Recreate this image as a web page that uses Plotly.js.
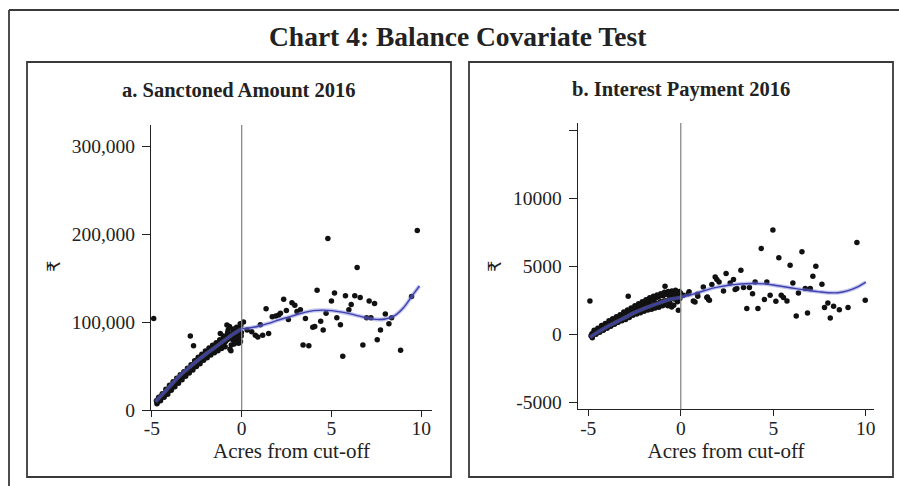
<!DOCTYPE html>
<html><head><meta charset="utf-8">
<script src="https://cdn.plot.ly/plotly-3.0.1.min.js"></script>
<style>html,body{margin:0;padding:0;background:#fff}#c{width:899px;height:486px}</style>
</head><body><div id="c"></div>
<script>
// ---- Panel a: Sanctioned Amount 2016 ----
const aX = [-4.9,-4.75,-4.7,-4.65,-4.6,-4.55,-4.5,-4.45,-4.4,-4.35,-4.3,-4.25,-4.2,-4.15,-4.1,-4.05,-4.0,-3.95,-3.9,-3.85,-3.8,-3.75,-3.7,-3.65,-3.6,-3.55,-3.5,-3.45,-3.4,-3.35,-3.3,-3.25,-3.2,-3.15,-3.1,-3.05,-3.0,-2.95,-2.9,-2.86,-2.85,-2.8,-2.75,-2.7,-2.68,-2.65,-2.6,-2.55,-2.5,-2.45,-2.4,-2.35,-2.3,-2.25,-2.2,-2.15,-2.1,-2.05,-2.0,-1.95,-1.9,-1.85,-1.8,-1.75,-1.7,-1.65,-1.6,-1.55,-1.5,-1.45,-1.4,-1.35,-1.3,-1.25,-1.2,-1.19,-1.15,-1.1,-1.05,-1.0,-0.95,-0.9,-0.85,-0.82,-0.8,-0.75,-0.7,-0.65,-0.6,-0.55,-0.5,-0.45,-0.42,-0.4,-0.35,-0.3,-0.25,-0.2,-0.17,-0.12,-0.07,-0.05,-0.02,
  -4.72,-4.62,-4.52,-4.42,-4.32,-4.22,-4.12,-4.02,-3.92,-3.82,-3.72,-3.62,-3.52,-3.42,-3.32,-3.22,-3.12,-3.02,-2.92,-2.82,-2.72,-2.62,-2.52,-2.42,-2.32,-2.22,-2.12,-2.02,-1.92,-1.82,-1.72,-1.62,-1.52,-1.42,-1.32,-1.22,-1.12,-1.02,-0.92,-0.78,-0.68,-0.58,-0.48,-0.38,-0.28,-0.18,-0.08,-0.03,
  0.1,0.3,0.56,0.76,0.9,1.04,1.17,1.36,1.5,1.7,1.9,2.06,2.16,2.34,2.49,2.6,2.8,2.96,3.08,3.27,3.42,3.55,3.74,3.96,4.07,4.2,4.4,4.54,4.7,4.8,5.0,5.17,5.3,5.5,5.63,5.78,5.97,6.1,6.3,6.43,6.6,6.75,6.96,7.1,7.2,7.4,7.55,7.73,8.0,8.2,8.35,8.85,9.46,9.78];
const aY = [104000,10500,8500,12500,11000,14500,13000,16500,15000,18500,17000,20000,22000,19500,23500,21500,25500,27500,24500,29000,27000,31000,29500,33000,31500,35500,33500,37500,36000,39000,37500,41000,39500,42500,41000,44500,43000,46000,44500,84000,48000,46500,50000,48000,73000,52000,50500,54500,52500,57000,54500,58500,56000,60000,58000,62000,59500,63000,61000,65000,62500,66500,64000,67500,65500,69500,66500,71000,68000,72000,69500,74000,71000,75500,72500,87000,77000,74000,79000,76000,82000,78000,84000,96500,80000,91000,82000,69000,67500,86000,80000,88000,75000,84000,91000,86000,77000,90000,76000,93000,78000,96000,88000,
  7000,14500,10500,18500,14500,23500,18000,28000,22500,32000,26500,36000,30500,40000,34500,43500,38500,47500,42000,51500,45500,56000,49500,60000,52500,63500,56500,67000,59500,70500,62500,73500,65000,76500,67500,80000,70000,84000,72000,88000,95000,74000,92000,79000,94000,82000,98000,84000,
  100000,91000,89000,85000,83000,97000,85000,115000,87000,106000,107000,108000,110000,126000,113000,103000,122000,119000,112000,114000,74000,104000,73000,94000,95000,136000,101000,91000,110000,195000,124000,133000,105000,97000,61000,130000,114000,120000,130000,162000,128000,74000,105000,124000,105000,121000,80000,91000,109000,98000,105000,68000,129000,204000];
const aFitLX = [-4.8,-4.5,-4,-3.5,-3,-2.5,-2,-1.5,-1,-0.5,0];
const aFitLY = [9500,16000,27000,38000,47000,55500,63500,71000,78500,86000,92000];
const aFitRX = [0,0.5,1,1.5,2,2.5,3,3.5,4,4.5,5,5.5,6,6.5,7,7.5,8,8.5,9,9.5,9.9];
const aFitRY = [92500,93500,95500,98500,102000,105000,108000,111000,113000,113500,113000,111500,109500,107000,104500,103000,103500,107000,116000,130000,141000];
const aTickVals = [0,100000,200000,300000];
const aTickText = ['0','100,000','200,000','300,000'];

// ---- Panel b: Interest Payment 2016 ----
const bX = [-4.91,-4.85,-4.8,-4.75,-4.7,-4.65,-4.6,-4.55,-4.5,-4.45,-4.4,-4.35,-4.3,-4.25,-4.2,-4.15,-4.1,-4.05,-4.0,-3.95,-3.9,-3.85,-3.8,-3.75,-3.7,-3.65,-3.6,-3.55,-3.5,-3.45,-3.4,-3.35,-3.3,-3.25,-3.2,-3.15,-3.1,-3.05,-3.0,-2.95,-2.9,-2.84,-2.8,-2.75,-2.7,-2.65,-2.6,-2.55,-2.5,-2.45,-2.4,-2.35,-2.3,-2.25,-2.2,-2.15,-2.1,-2.05,-2.0,-1.95,-1.9,-1.85,-1.8,-1.75,-1.7,-1.65,-1.6,-1.55,-1.5,-1.45,-1.4,-1.35,-1.3,-1.25,-1.2,-1.15,-1.1,-1.05,-1.0,-0.95,-0.9,-0.85,-0.8,-0.75,-0.7,-0.65,-0.6,-0.55,-0.49,-0.45,-0.4,-0.35,-0.3,-0.25,-0.2,-0.13,-0.1,-0.05,-0.02,
  -4.78,-4.68,-4.58,-4.48,-4.38,-4.28,-4.18,-4.08,-3.98,-3.88,-3.78,-3.68,-3.58,-3.48,-3.38,-3.28,-3.18,-3.08,-2.98,-2.88,-2.78,-2.68,-2.58,-2.48,-2.38,-2.28,-2.18,-2.08,-1.98,-1.88,-1.78,-1.68,-1.58,-1.48,-1.38,-1.28,-1.18,-1.08,-0.98,-0.88,-0.78,-0.68,-0.58,-0.48,-0.38,-0.28,-0.18,-0.08,
  0.14,0.41,0.45,0.68,0.77,0.9,0.92,1.22,1.41,1.44,1.5,1.55,1.68,1.86,1.95,2.07,2.31,2.45,2.67,2.85,2.94,3.03,3.25,3.39,3.57,3.71,3.88,4.02,4.17,4.35,4.52,4.65,4.83,4.98,5.14,5.3,5.43,5.55,5.74,5.91,6.06,6.24,6.36,6.55,6.73,6.85,7.0,7.14,7.3,7.63,7.77,7.95,8.08,8.26,8.57,9.04,9.52,9.97];
const bY = [2460,-100,50,-50,150,50,250,150,300,200,400,300,450,350,550,450,600,500,700,550,800,650,850,700,950,800,1000,850,1100,900,1150,1000,1250,1050,1300,1150,1350,1200,1450,1250,1550,2810,1350,1650,1450,1750,1550,1850,1600,1900,1700,2000,1750,2050,1800,2150,1850,2200,1950,2300,2000,2350,2050,2450,2100,2500,2150,2550,1950,2600,2250,2700,2300,2750,2100,2800,2400,2900,2200,2850,2450,3550,2950,2500,2100,2900,2600,3050,2020,2750,3100,2600,2900,3000,2700,1770,2950,2650,3050,
  -250,300,0,450,150,650,300,800,450,1000,600,1150,750,1300,900,1450,1000,1650,1100,1800,1250,1950,1400,2100,1500,2250,1600,2400,1700,2550,1800,2700,1850,2800,1950,2900,2000,3000,2100,3100,2200,3150,2300,3200,2150,3250,2400,3150,
  2880,3000,3130,2460,2390,2950,2810,3490,2710,2760,2560,2510,3670,4230,4040,3860,3200,4480,3790,4040,3300,3380,4730,3450,1900,3450,3000,3860,1900,6330,2560,3860,2880,7680,2440,5640,2880,2710,2460,5100,3790,1350,3050,6080,3380,1570,3380,4280,5020,3690,1970,2310,1200,2070,1820,1970,6770,2510];
const bFitLX = [-4.9,-4.5,-4,-3.5,-3,-2.5,-2,-1.5,-1,-0.5,0];
const bFitLY = [-200,150,550,900,1250,1600,1900,2150,2400,2600,2720];
const bFitRX = [0,0.5,1,1.5,2,2.5,3,3.5,4,4.5,5,5.5,6,6.5,7,7.5,8,8.5,9,9.5,10];
const bFitRY = [2750,2900,3100,3320,3480,3600,3680,3730,3750,3720,3640,3530,3420,3310,3210,3130,3070,3070,3200,3460,3850];
const bTickVals = [-5000,0,5000,10000,15000];
const bTickText = ['-5000','0','5000','10000',''];

const xTickVals = [-5,0,5,10];
const xTickText = ['-5','0','5','10'];

const W = 899, H = 486;
const fx = p => p / W, fy = p => 1 - p / H;
const serif = 'Liberation Serif, Times New Roman, serif';
const bandCol = 'rgba(120,128,215,0.45)', lineCol = '#3f3fb0';
const boxCol = '#3a3a3a';

function pts(x, y, xa, ya) {
  return {x, y, xaxis: xa, yaxis: ya, type: 'scatter', mode: 'markers',
    marker: {size: 5.5, color: '#111'}, hoverinfo: 'skip', showlegend: false};
}
function fit(x, y, xa, ya, w, c) {
  return {x, y, xaxis: xa, yaxis: ya, type: 'scatter', mode: 'lines',
    line: {width: w, color: c, shape: 'spline'}, hoverinfo: 'skip', showlegend: false};
}
const traces = [
  pts(aX, aY, 'x', 'y'),
  fit(aFitLX, aFitLY, 'x', 'y', 4, bandCol), fit(aFitLX, aFitLY, 'x', 'y', 1.4, lineCol),
  fit(aFitRX, aFitRY, 'x', 'y', 4, bandCol), fit(aFitRX, aFitRY, 'x', 'y', 1.4, lineCol),
  pts(bX, bY, 'x2', 'y2'),
  fit(bFitLX, bFitLY, 'x2', 'y2', 4, bandCol), fit(bFitLX, bFitLY, 'x2', 'y2', 1.4, lineCol),
  fit(bFitRX, bFitRY, 'x2', 'y2', 4, bandCol), fit(bFitRX, bFitRY, 'x2', 'y2', 1.4, lineCol)
];

const axCommon = {showline: true, linecolor: '#222', linewidth: 1, ticks: 'outside',
  tickcolor: '#222', tickwidth: 1, showgrid: false, zeroline: false, fixedrange: true,
  tickfont: {family: serif, size: 19.5, color: '#222'}};
const xCommon = Object.assign({}, axCommon, {ticklen: 6, ticklabelstandoff: -5,
  tickvals: xTickVals, ticktext: xTickText,
  title: {text: 'Acres from cut-off', font: {family: serif, size: 21, color: '#222'}, standoff: 0}});
const yCommon = Object.assign({}, axCommon, {ticklen: 8, ticklabelstandoff: 3});

const layout = {
  width: W, height: H, margin: {l: 0, r: 0, t: 0, b: 0}, paper_bgcolor: '#fff', plot_bgcolor: '#fff',
  showlegend: false,
  xaxis: Object.assign({}, xCommon, {domain: [fx(151), fx(432)], range: [-5.05, 10.6], anchor: 'y'}),
  yaxis: Object.assign({}, yCommon, {domain: [fy(410), fy(125)], range: [0, 324000], anchor: 'x',
    tickvals: aTickVals, ticktext: aTickText}),
  xaxis2: Object.assign({}, xCommon, {domain: [fx(577.7), fx(874.3)], range: [-5.57, 10.46], anchor: 'y2'}),
  yaxis2: Object.assign({}, yCommon, {domain: [fy(409.3), fy(123)], range: [-5520, 15570], anchor: 'x2',
    tickvals: bTickVals, ticktext: bTickText}),
  shapes: [
    {type: 'line', xref: 'paper', yref: 'paper', x0: fx(9), x1: fx(9), y0: fy(10), y1: 0, line: {color: boxCol, width: 1.8}},
    {type: 'line', xref: 'paper', yref: 'paper', x0: fx(9), x1: 1, y0: fy(10), y1: fy(10), line: {color: boxCol, width: 1.8}},
    {type: 'rect', xref: 'paper', yref: 'paper', x0: fx(27), x1: fx(451), y0: fy(477), y1: fy(62), line: {color: boxCol, width: 1.8}},
    {type: 'rect', xref: 'paper', yref: 'paper', x0: fx(469), x1: fx(893), y0: fy(477), y1: fy(62), line: {color: boxCol, width: 1.8}},
    {type: 'line', xref: 'x', yref: 'y domain', x0: 0, x1: 0, y0: 0, y1: 1, line: {color: '#888', width: 1.3}},
    {type: 'line', xref: 'x2', yref: 'y2 domain', x0: 0, x1: 0, y0: 0, y1: 1, line: {color: '#888', width: 1.3}}
  ],
  annotations: [
    {text: '<b>Chart 4: Balance Covariate Test</b>', xref: 'paper', yref: 'paper', x: fx(458), y: fy(36),
     showarrow: false, xanchor: 'center', yanchor: 'middle', font: {family: serif, size: 27.5, color: '#222'}},
    {text: '<b>a. Sanctoned Amount 2016</b>', xref: 'paper', yref: 'paper', x: fx(239), y: fy(90),
     showarrow: false, xanchor: 'center', yanchor: 'middle', font: {family: serif, size: 20.5, color: '#222'}},
    {text: '<b>b. Interest Payment 2016</b>', xref: 'paper', yref: 'paper', x: fx(680.5), y: fy(90),
     showarrow: false, xanchor: 'center', yanchor: 'middle', font: {family: serif, size: 20.5, color: '#222'}},
    {text: '₹', xref: 'paper', yref: 'paper', x: fx(53), y: fy(267), textangle: -90,
     showarrow: false, xanchor: 'center', yanchor: 'middle', font: {family: 'DejaVu Sans, Noto Sans', size: 18, color: '#222'}},
    {text: '₹', xref: 'paper', yref: 'paper', x: fx(494), y: fy(267), textangle: -90,
     showarrow: false, xanchor: 'center', yanchor: 'middle', font: {family: 'DejaVu Sans, Noto Sans', size: 18, color: '#222'}}
  ]
};
Plotly.newPlot('c', traces, layout, {staticPlot: true, displayModeBar: false});
</script></body></html>
